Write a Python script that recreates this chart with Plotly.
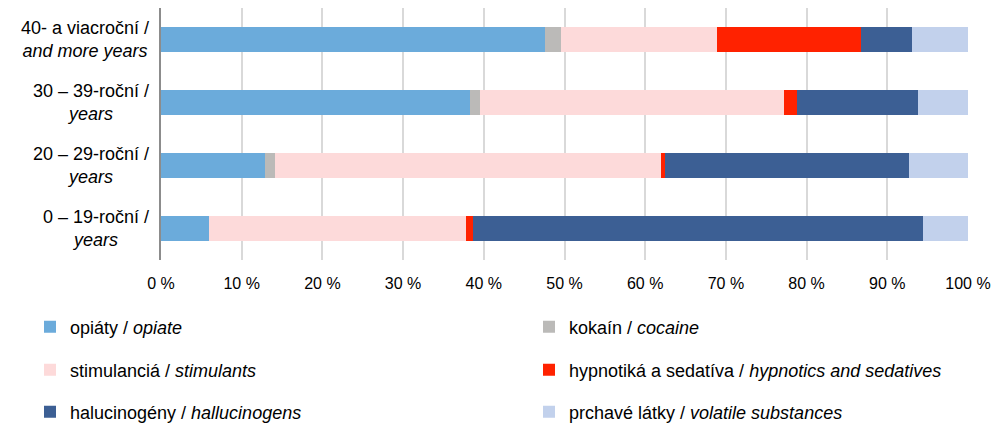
import plotly.graph_objects as go

categories = ["0 – 19-roční /<br><i>years</i>",
              "20 – 29-roční /<br><i>years</i>",
              "30 – 39-roční /<br><i>years</i>",
              "40- a viacroční /<br><i>and more years</i>"]
cat_keys = ["0-19", "20-29", "30-39", "40+"]

series_names = ["opiáty / <i>opiate</i>",
                "kokaín / <i>cocaine</i>",
                "stimulanciá / <i>stimulants</i>",
                "hypnotiká a sedatíva / <i>hypnotics and sedatives</i>",
                "halucinogény / <i>hallucinogens</i>",
                "prchavé látky / <i>volatile substances</i>"]

opiate = [6.0, 12.9, 38.3, 47.6]
cocaine = [0.0, 1.2, 1.2, 2.0]
stimulants = [31.8, 47.8, 37.7, 19.3]
hypnotics = [0.8, 0.6, 1.6, 17.8]
hallucinogens = [55.8, 30.2, 15.0, 6.4]
volatile = [5.6, 7.3, 6.2, 6.9]

series_values = [opiate, cocaine, stimulants, hypnotics, hallucinogens, volatile]
colors = ["#6BABDB", "#BBBAB8", "#FDDADA", "#FF2200", "#3C5F94", "#C2D1EC"]
legend_ids = ["legend", "legend2", "legend3", "legend4", "legend5", "legend6"]

x_ticks = [0, 10, 20, 30, 40, 50, 60, 70, 80, 90, 100]
x_ticktext = ["0 %", "10 %", "20 %", "30 %", "40 %", "50 %",
              "60 %", "70 %", "80 %", "90 %", "100 %"]

fig = go.Figure()
for name, vals, col, lg in zip(series_names, series_values, colors, legend_ids):
    fig.add_trace(go.Bar(
        y=cat_keys, x=vals, name=name, orientation="h",
        marker=dict(color=col, line=dict(width=0)),
        legend=lg,
    ))

font_family = "Liberation Sans, Arial, sans-serif"

legend_common = dict(
    orientation="v", xref="container", yref="container",
    xanchor="left", yanchor="middle",
    font=dict(family=font_family, size=18, color="#000000"),
    bgcolor="rgba(0,0,0,0)",
    itemclick=False, itemdoubleclick=False,
)

col_x = [30 / 999, 529 / 999]
row_y = [1 - 327 / 423, 1 - 370 / 423, 1 - 412 / 423]
legend_layout = {}
for i, lg in enumerate(legend_ids):
    legend_layout[lg] = dict(x=col_x[i % 2], y=row_y[i // 2], **legend_common)

fig.update_layout(
    width=999, height=423,
    margin=dict(l=161, r=31, t=8, b=163, autoexpand=False),
    paper_bgcolor="white", plot_bgcolor="white",
    barmode="stack", bargap=0.6,
    font=dict(family=font_family, size=16, color="#000000"),
    showlegend=True,
    xaxis=dict(
        range=[0, 100], tickmode="array", tickvals=x_ticks, ticktext=x_ticktext,
        showgrid=True, gridcolor="#D9D9D9", gridwidth=1.5,
        zeroline=False, showline=False, automargin=False,
        ticks="outside", ticklen=9, tickcolor="rgba(0,0,0,0)",
        tickfont=dict(family=font_family, size=16, color="#000000"),
    ),
    yaxis=dict(
        categoryorder="array", categoryarray=cat_keys,
        showticklabels=False, showgrid=False, zeroline=False,
        showline=True, linecolor="#8C8C8C", linewidth=1.5,
        range=[-0.5, 3.5], automargin=False,
    ),
    **legend_layout,
)

for key, label in zip(cat_keys, categories):
    fig.add_annotation(
        x=0, xref="paper", y=key, yref="y", text=label,
        xanchor="right", yanchor="middle", align="center",
        xshift=-10, showarrow=False,
        font=dict(family=font_family, size=18, color="#000000"),
    )

fig.write_html("out.html",
               config={"displayModeBar": False},
               post_script="document.body.style.margin='0';document.body.style.overflow='hidden';")
